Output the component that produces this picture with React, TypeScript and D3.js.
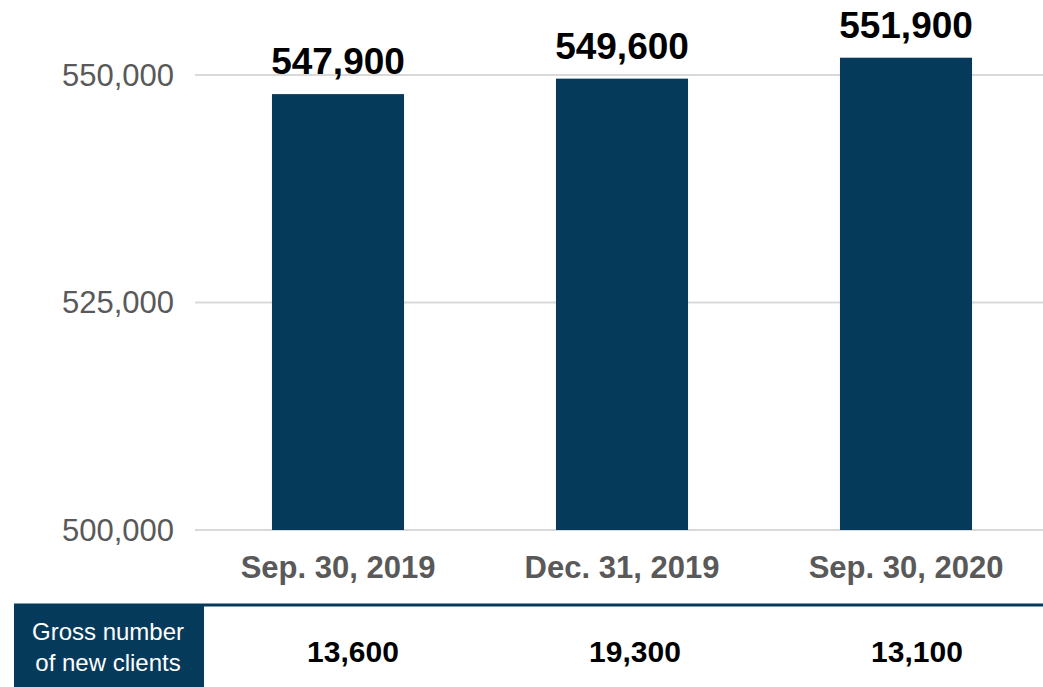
import * as d3 from 'd3';

const categories = ['Sep. 30, 2019', 'Dec. 31, 2019', 'Sep. 30, 2020'];
const clients = [547900, 549600, 551900];
const newClients = [13600, 19300, 13100];
const yTicks = [500000, 525000, 550000];
const tableTitle = ['Gross number', 'of new clients'];

const width = 1043;
const height = 687;
const navy = '#063a5b';
const font = 'Liberation Sans, Arial, sans-serif';

const App = () => {
    const x = d3.scaleBand<string>()
        .domain(categories)
        .range([196, 1048])
        .paddingInner(0.535)
        .paddingOuter(0.2675);

    const y = d3.scaleLinear()
        .domain([500000, 550000])
        .range([530, 75]);

    // columns of the table under the chart
    const col = d3.scaleBand<string>()
        .domain(categories)
        .range([212, 1058]);

    const fmt = d3.format(',');

    return (
        <svg width={width} height={height} style={{ position: 'absolute', left: 0, top: 0 }} fontFamily={font}>
            <rect width={width} height={height} fill="#fff" />
            {yTicks.map(t => (
                <g key={t}>
                    <line x1={195} x2={width} y1={y(t)} y2={y(t)} stroke="#d9d9d9" strokeWidth={2} />
                    <text x={174} y={y(t)} dy="0.35em" textAnchor="end" fontSize={31} fill="#595959">{fmt(t)}</text>
                </g>
            ))}
            {categories.map((c, i) => (
                <g key={c}>
                    <rect x={x(c)} y={y(clients[i])} width={x.bandwidth()} height={y(500000) - y(clients[i])} fill={navy} />
                    <text x={x(c)! + x.bandwidth() / 2} y={y(clients[i]) - 20} textAnchor="middle" fontSize={37} fontWeight="bold" fill="#000">{fmt(clients[i])}</text>
                    <text x={x(c)! + x.bandwidth() / 2} y={578} textAnchor="middle" fontSize={31} fontWeight="bold" fill="#595959">{c}</text>
                </g>
            ))}
            <line x1={14} x2={width} y1={605} y2={605} stroke={navy} strokeWidth={3} />
            <rect x={14} y={605} width={190} height={height - 605} fill={navy} />
            {tableTitle.map((t, i) => (
                <text key={t} x={108} y={640 + i * 31} textAnchor="middle" fontSize={24} fill="#fff">{t}</text>
            ))}
            {categories.map((c, i) => (
                <text key={c} x={col(c)! + col.bandwidth() / 2} y={662} textAnchor="middle" fontSize={30} fontWeight="bold" fill="#000">{fmt(newClients[i])}</text>
            ))}
        </svg>
    );
};

export default App;
